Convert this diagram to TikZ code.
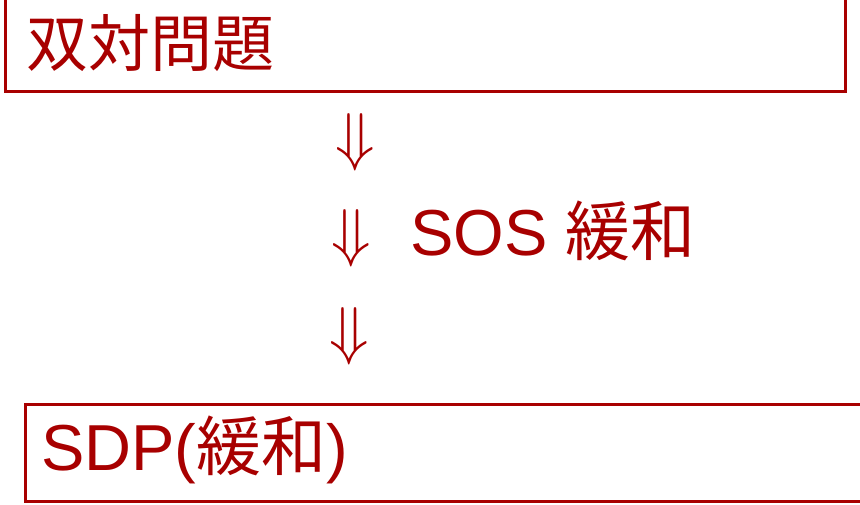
\documentclass[tikz,border=0pt]{standalone}
\usepackage{fontspec}
\usepackage{amsmath}
\setmainfont{Liberation Sans}
\newfontfamily\cjk{Noto Sans CJK JP}
\definecolor{dred}{RGB}{168,0,0}
\tikzset{
  framebox/.style={draw=dred, line width=3pt},
  label65/.style={text=dred, inner sep=0pt, anchor=base west, font=\fontsize{65}{70}\selectfont},
  jlabel/.style={text=dred, inner sep=0pt, anchor=base west, font=\fontsize{62}{66}\selectfont\cjk},
  darrow/.style={text=dred, inner sep=0pt, anchor=center, scale=2.6},
}
\begin{document}
\begin{tikzpicture}[x=1pt,y=-1pt]
\useasboundingbox (0,0) rectangle (860,504);
\draw[framebox] (5,-10) rectangle (845,91);
\draw[framebox] (25,404) rectangle (875,501);
\node[jlabel] (dual) at (26,66) {双対問題};
\node[darrow] (a1) at (355,142) {\fontsize{24.88}{28}\selectfont$\Downarrow$};
\node[darrow] (a2) at (351,238) {\fontsize{24.88}{28}\selectfont$\Downarrow$};
\node[darrow] (a3) at (349,336) {\fontsize{24.88}{28}\selectfont$\Downarrow$};
\node[label65] (sos) at (410,255) {SOS {\cjk 緩和}};
\node[label65] (sdp) at (41,470) {SDP({\cjk 緩和})};
\end{tikzpicture}
\end{document}
